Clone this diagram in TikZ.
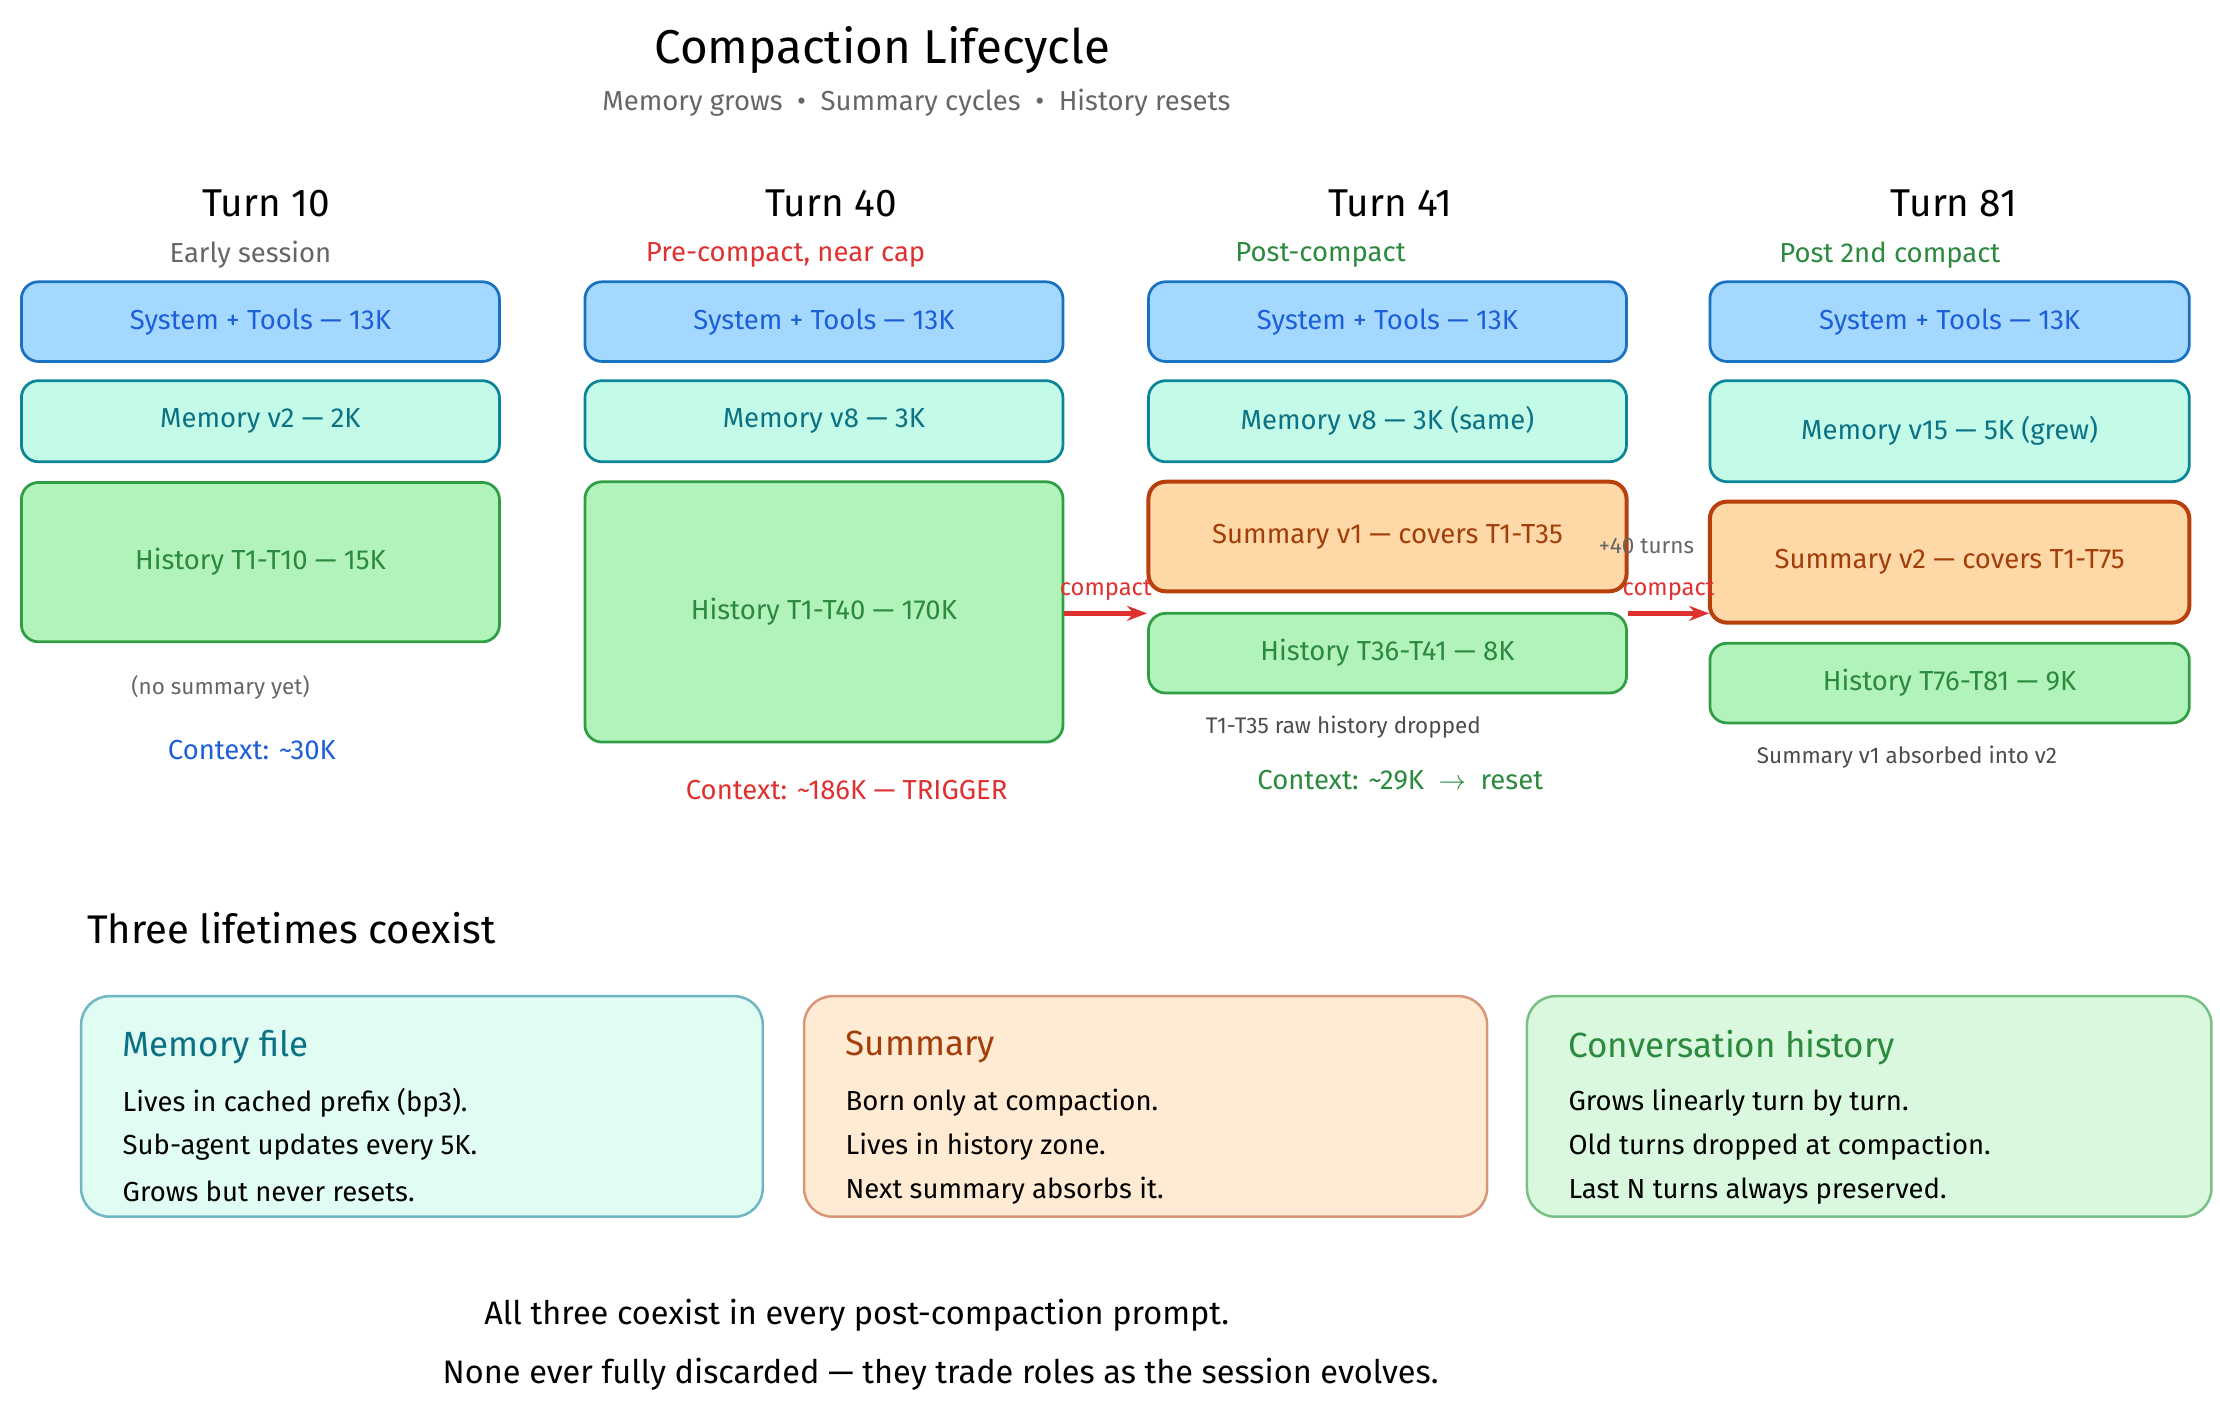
\documentclass[tikz,border=0pt]{standalone}
\usepackage{fontspec}
\setmainfont{Fira Sans}
\usetikzlibrary{arrows.meta}
\definecolor{sysF}{HTML}{A5D8FF}\definecolor{sysS}{HTML}{1971C2}\definecolor{sysT}{HTML}{1C5FD8}
\definecolor{memF}{HTML}{C3FAE8}\definecolor{memS}{HTML}{0C8599}\definecolor{memT}{HTML}{0B7285}
\definecolor{hisF}{HTML}{B2F2BB}\definecolor{hisS}{HTML}{2F9E44}\definecolor{hisT}{HTML}{2B8A3E}
\definecolor{sumF}{HTML}{FFD8A8}\definecolor{sumS}{HTML}{B8400C}\definecolor{sumT}{HTML}{A33E09}
\definecolor{redc}{HTML}{E03131}\definecolor{grayc}{HTML}{666666}
\begin{document}
\begin{tikzpicture}[x=0.02cm,y=-0.02cm,
 box/.style={draw,rounded corners=0.24cm,line width=1.1pt,outer sep=0pt,font=\fontsize{11}{13}\selectfont},
 sys/.style={box,fill=sysF,draw=sysS,text=sysT},
 mem/.style={box,fill=memF,draw=memS,text=memT},
 his/.style={box,fill=hisF,draw=hisS,text=hisT},
 summ/.style={box,fill=sumF,draw=sumS,text=sumT,line width=1.6pt},
 turn/.style={font=\fontsize{15.5}{18}\selectfont},
 sub/.style={font=\fontsize{11}{13}\selectfont},
 small/.style={font=\fontsize{9}{11}\selectfont,text=grayc},
 arr/.style={-{Stealth[length=8pt]},draw=redc,line width=1.8pt},
 big/.style={draw,rounded corners=0.4cm,line width=1pt},
 btitle/.style={anchor=west,font=\fontsize{14}{16}\selectfont},
 bline/.style={anchor=west,font=\fontsize{11}{13}\selectfont}]
\useasboundingbox (0,0) rectangle (1560,991);
\node (title) at (620,35) {\fontsize{19}{22}\selectfont Compaction Lifecycle};
\node[sub,text=grayc] (subt) at (644,72) {Memory grows \ \textbullet\ \ Summary cycles \ \textbullet\ \ History resets};
% column 1
\node[turn] (t1) at (187,143) {Turn 10};
\node[sub,text=grayc] (s1) at (176,179) {Early session};
\node[sys,minimum width=6.72cm,minimum height=1.12cm] (a1) at (183,226) {System + Tools — 13K};
\node[mem,minimum width=6.72cm,minimum height=1.14cm] (b1) at (183,296) {Memory v2 — 2K};
\node[his,minimum width=6.72cm,minimum height=2.24cm] (c1) at (183,395) {History T1-T10 — 15K};
\node[small] (n1) at (155,483) {(no summary yet)};
\node[sub,text=sysT] (x1) at (177,527) {Context: \textasciitilde30K};
% column 2
\node[turn] (t2) at (584,143) {Turn 40};
\node[sub,text=redc] (s2) at (552,179) {Pre-compact, near cap};
\node[sys,minimum width=6.72cm,minimum height=1.12cm] (a2) at (579,226) {System + Tools — 13K};
\node[mem,minimum width=6.72cm,minimum height=1.14cm] (b2) at (579,296) {Memory v8 — 3K};
\node[his,minimum width=6.72cm,minimum height=3.66cm] (c2) at (579,430) {History T1-T40 — 170K};
\node[sub,text=redc] (x2) at (595,555) {Context: \textasciitilde186K — TRIGGER};
% column 3
\node[turn] (t3) at (977,143) {Turn 41};
\node[sub,text=hisT] (s3) at (928,179) {Post-compact};
\node[sys,minimum width=6.72cm,minimum height=1.12cm] (a3) at (975,226) {System + Tools — 13K};
\node[mem,minimum width=6.72cm,minimum height=1.14cm] (b3) at (975,296) {Memory v8 — 3K (same)};
\node[summ,minimum width=6.72cm,minimum height=1.54cm] (d3) at (975,377) {Summary v1 — covers T1-T35};
\node[his,minimum width=6.72cm,minimum height=1.12cm] (c3) at (975,459) {History T36-T41 — 8K};
\node[small,text=black!70] (n3) at (944,511) {T1-T35 raw history dropped};
\node[sub,text=hisT] (x3) at (984,548) {Context: \textasciitilde29K \ $\rightarrow$ \ reset};
% column 4
\node[turn] (t4) at (1373,143) {Turn 81};
\node[sub,text=hisT] (s4) at (1328,179) {Post 2nd compact};
\node[sys,minimum width=6.74cm,minimum height=1.12cm] (a4) at (1370,226) {System + Tools — 13K};
\node[mem,minimum width=6.74cm,minimum height=1.42cm] (b4) at (1370,303) {Memory v15 — 5K (grew)};
\node[summ,minimum width=6.74cm,minimum height=1.7cm] (d4) at (1370,395) {Summary v2 — covers T1-T75};
\node[his,minimum width=6.74cm,minimum height=1.12cm] (c4) at (1370,480) {History T76-T81 — 9K};
\node[small,text=black!70] (n4) at (1340,532) {Summary v1 absorbed into v2};
% arrows
\coordinate (p1) at (748,431); \coordinate (q1) at (806,431);
\draw[arr] (p1) -- (q1) node[midway,above=1pt,text=redc,font=\fontsize{9.5}{11}\selectfont] {compact};
\coordinate (p2) at (1144,431); \coordinate (q2) at (1201,431);
\draw[arr] (p2) -- (q2) node[midway,above=1pt,text=redc,font=\fontsize{9.5}{11}\selectfont] {compact};
\node[small] (plus) at (1157,384) {+40 turns};
% lifetimes
\node[anchor=west,font=\fontsize{16}{18}\selectfont] (lt) at (55,652) {Three lifetimes coexist};
\draw[big,fill=memF!50,draw=memS!60] (57,700) rectangle (536,855);
\draw[big,fill=sumF!50,draw=sumS!55] (565,700) rectangle (1045,855);
\draw[big,fill=hisF!50,draw=hisS!65] (1073,700) rectangle (1554,855);
\node[btitle,text=memT] (m0) at (80,736) {Memory file};
\node[bline] (m1) at (80,775) {Lives in cached prefix (bp3).};
\node[bline] (m2) at (80,806) {Sub-agent updates every 5K.};
\node[bline] (m3) at (80,837) {Grows but never resets.};
\node[btitle,text=sumT] (u0) at (588,736) {Summary};
\node[bline] (u1) at (588,775) {Born only at compaction.};
\node[bline] (u2) at (588,806) {Lives in history zone.};
\node[bline] (u3) at (588,837) {Next summary absorbs it.};
\node[btitle,text=hisT] (h0) at (1096,736) {Conversation history};
\node[bline] (h1) at (1096,775) {Grows linearly turn by turn.};
\node[bline] (h2) at (1096,806) {Old turns dropped at compaction.};
\node[bline] (h3) at (1096,837) {Last N turns always preserved.};
\node[font=\fontsize{13}{15}\selectfont] (f1) at (602,924) {All three coexist in every post-compaction prompt.};
\node[font=\fontsize{13}{15}\selectfont] (f2) at (661,966) {None ever fully discarded — they trade roles as the session evolves.};
\end{tikzpicture}
\end{document}
